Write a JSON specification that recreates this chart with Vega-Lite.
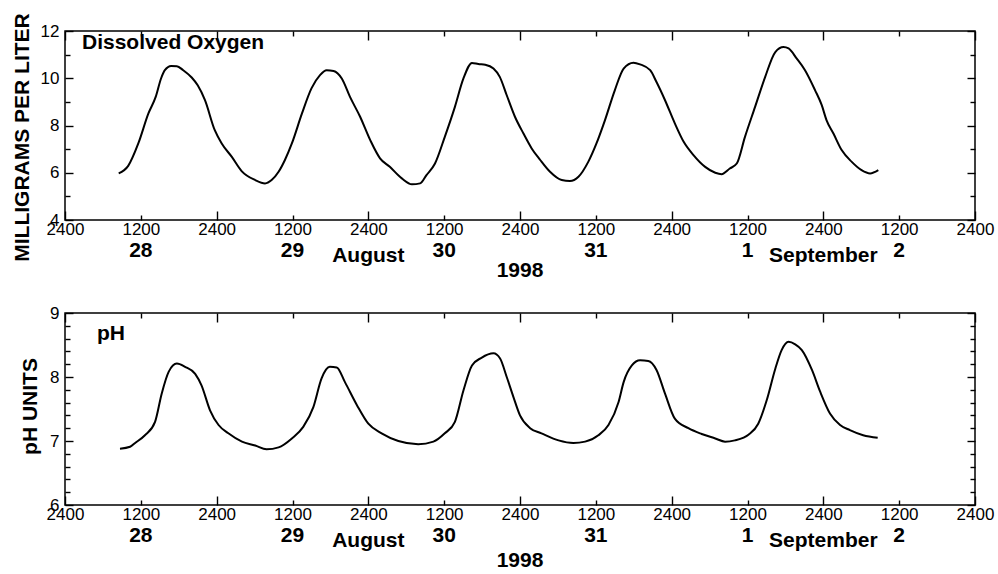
{
  "$schema": "https://vega.github.io/schema/vega-lite/v6.json",
  "padding": {"left": 10, "top": 12, "right": 4, "bottom": 4},
  "background": "white",
  "bounds": "flush",
  "spacing": 93,
  "config": {
    "font": "Liberation Sans",
    "view": {"stroke": "black", "strokeWidth": 1.5},
    "axis": {"domain": false, "grid": false, "ticks": true, "labelFont": "Liberation Sans", "labelFontSize": 17, "labelColor": "black", "tickColor": "black", "tickWidth": 1.4, "labelFlush": false, "labelOverlap": false, "titleFont": "Liberation Sans", "titleFontSize": 21, "titleFontWeight": "bold", "titleColor": "black", "zindex": 1},
    "text": {"font": "Liberation Sans", "fontSize": 21, "fontWeight": "bold", "color": "black"}
  },
  "datasets": {
    "do": [
      {"hour": 8.5, "do": 5.97}, {"hour": 10.0, "do": 6.29}, {"hour": 11.6, "do": 7.24}, {"hour": 13.2, "do": 8.51}, {"hour": 14.35, "do": 9.21}, {"hour": 15.2, "do": 9.99}, {"hour": 15.8, "do": 10.34}, {"hour": 16.8, "do": 10.52}, {"hour": 17.7, "do": 10.51}, {"hour": 18.7, "do": 10.34}, {"hour": 20.05, "do": 10.03}, {"hour": 21.0, "do": 9.7}, {"hour": 22.15, "do": 9.07}, {"hour": 23.7, "do": 7.8}, {"hour": 24.8, "do": 7.24}, {"hour": 26.4, "do": 6.67}, {"hour": 27.95, "do": 6.07}, {"hour": 30.1, "do": 5.69}, {"hour": 31.65, "do": 5.55}, {"hour": 32.7, "do": 5.69}, {"hour": 33.8, "do": 6.04}, {"hour": 34.8, "do": 6.54}, {"hour": 35.9, "do": 7.24}, {"hour": 37.5, "do": 8.51}, {"hour": 39.0, "do": 9.57}, {"hour": 40.35, "do": 10.13}, {"hour": 41.4, "do": 10.34}, {"hour": 42.5, "do": 10.31}, {"hour": 43.8, "do": 9.99}, {"hour": 45.1, "do": 9.21}, {"hour": 46.7, "do": 8.37}, {"hour": 48.3, "do": 7.38}, {"hour": 49.85, "do": 6.61}, {"hour": 51.4, "do": 6.25}, {"hour": 53.3, "do": 5.76}, {"hour": 54.9, "do": 5.51}, {"hour": 56.2, "do": 5.55}, {"hour": 57.2, "do": 5.9}, {"hour": 58.55, "do": 6.39}, {"hour": 60.1, "do": 7.52}, {"hour": 61.7, "do": 8.79}, {"hour": 63.05, "do": 9.99}, {"hour": 64.4, "do": 10.65}, {"hour": 65.4, "do": 10.6}, {"hour": 66.5, "do": 10.57}, {"hour": 67.8, "do": 10.41}, {"hour": 68.8, "do": 10.06}, {"hour": 69.9, "do": 9.28}, {"hour": 71.2, "do": 8.37}, {"hour": 72.55, "do": 7.66}, {"hour": 73.85, "do": 7.03}, {"hour": 75.2, "do": 6.54}, {"hour": 76.75, "do": 6.04}, {"hour": 78.6, "do": 5.69}, {"hour": 79.9, "do": 5.65}, {"hour": 81.25, "do": 5.83}, {"hour": 82.8, "do": 6.46}, {"hour": 84.1, "do": 7.24}, {"hour": 85.45, "do": 8.23}, {"hour": 87.0, "do": 9.49}, {"hour": 88.4, "do": 10.41}, {"hour": 89.95, "do": 10.66}, {"hour": 91.0, "do": 10.59}, {"hour": 92.6, "do": 10.34}, {"hour": 93.6, "do": 9.84}, {"hour": 94.95, "do": 9.07}, {"hour": 96.5, "do": 8.09}, {"hour": 97.9, "do": 7.31}, {"hour": 99.45, "do": 6.75}, {"hour": 101.3, "do": 6.25}, {"hour": 102.9, "do": 6.0}, {"hour": 103.9, "do": 5.94}, {"hour": 105.2, "do": 6.18}, {"hour": 106.3, "do": 6.39}, {"hour": 107.6, "do": 7.52}, {"hour": 109.2, "do": 8.79}, {"hour": 110.8, "do": 10.06}, {"hour": 112.4, "do": 11.11}, {"hour": 113.7, "do": 11.32}, {"hour": 114.5, "do": 11.26}, {"hour": 115.8, "do": 10.83}, {"hour": 117.1, "do": 10.34}, {"hour": 118.7, "do": 9.49}, {"hour": 119.75, "do": 8.86}, {"hour": 120.5, "do": 8.23}, {"hour": 121.6, "do": 7.66}, {"hour": 122.9, "do": 6.96}, {"hour": 124.5, "do": 6.46}, {"hour": 126.05, "do": 6.11}, {"hour": 127.4, "do": 5.97}, {"hour": 128.7, "do": 6.11}
    ],
    "ph": [
      {"hour": 8.7, "ph": 6.88}, {"hour": 10.3, "ph": 6.91}, {"hour": 11.1, "ph": 6.97}, {"hour": 12.65, "ph": 7.09}, {"hour": 14.25, "ph": 7.3}, {"hour": 15.3, "ph": 7.74}, {"hour": 16.4, "ph": 8.08}, {"hour": 17.7, "ph": 8.21}, {"hour": 19.0, "ph": 8.16}, {"hour": 20.6, "ph": 8.05}, {"hour": 21.6, "ph": 7.87}, {"hour": 22.95, "ph": 7.48}, {"hour": 24.3, "ph": 7.25}, {"hour": 25.85, "ph": 7.12}, {"hour": 28.0, "ph": 6.99}, {"hour": 30.1, "ph": 6.93}, {"hour": 31.9, "ph": 6.87}, {"hour": 33.8, "ph": 6.9}, {"hour": 35.9, "ph": 7.04}, {"hour": 37.7, "ph": 7.22}, {"hour": 39.3, "ph": 7.53}, {"hour": 40.6, "ph": 7.98}, {"hour": 41.9, "ph": 8.16}, {"hour": 43.0, "ph": 8.15}, {"hour": 44.3, "ph": 7.92}, {"hour": 46.2, "ph": 7.56}, {"hour": 48.0, "ph": 7.27}, {"hour": 50.1, "ph": 7.12}, {"hour": 52.75, "ph": 7.0}, {"hour": 55.9, "ph": 6.95}, {"hour": 58.3, "ph": 6.99}, {"hour": 60.1, "ph": 7.12}, {"hour": 61.7, "ph": 7.3}, {"hour": 63.05, "ph": 7.79}, {"hour": 64.4, "ph": 8.18}, {"hour": 65.9, "ph": 8.3}, {"hour": 67.8, "ph": 8.37}, {"hour": 68.85, "ph": 8.29}, {"hour": 69.9, "ph": 8.0}, {"hour": 70.95, "ph": 7.69}, {"hour": 72.0, "ph": 7.4}, {"hour": 73.6, "ph": 7.2}, {"hour": 75.4, "ph": 7.12}, {"hour": 78.1, "ph": 7.01}, {"hour": 80.45, "ph": 6.97}, {"hour": 82.3, "ph": 6.99}, {"hour": 84.4, "ph": 7.09}, {"hour": 86.0, "ph": 7.25}, {"hour": 87.6, "ph": 7.61}, {"hour": 88.4, "ph": 7.92}, {"hour": 89.7, "ph": 8.18}, {"hour": 91.0, "ph": 8.26}, {"hour": 92.3, "ph": 8.25}, {"hour": 93.6, "ph": 8.11}, {"hour": 94.95, "ph": 7.74}, {"hour": 96.5, "ph": 7.35}, {"hour": 98.65, "ph": 7.2}, {"hour": 100.75, "ph": 7.11}, {"hour": 102.9, "ph": 7.04}, {"hour": 104.45, "ph": 6.99}, {"hour": 106.0, "ph": 7.01}, {"hour": 108.2, "ph": 7.1}, {"hour": 109.7, "ph": 7.27}, {"hour": 111.05, "ph": 7.64}, {"hour": 112.4, "ph": 8.13}, {"hour": 113.4, "ph": 8.42}, {"hour": 114.5, "ph": 8.55}, {"hour": 115.55, "ph": 8.51}, {"hour": 116.6, "ph": 8.42}, {"hour": 118.2, "ph": 8.11}, {"hour": 119.5, "ph": 7.77}, {"hour": 121.05, "ph": 7.43}, {"hour": 122.65, "ph": 7.25}, {"hour": 124.2, "ph": 7.17}, {"hour": 126.3, "ph": 7.09}, {"hour": 128.6, "ph": 7.05}
    ],
    "days": [
      {"hour": 12, "label": "28"}, {"hour": 36, "label": "29"}, {"hour": 60, "label": "30"}, {"hour": 84, "label": "31"}, {"hour": 108, "label": "1"}, {"hour": 132, "label": "2"}
    ],
    "months": [
      {"hour": 48, "label": "August"}, {"hour": 120, "label": "September"}
    ],
    "year": [
      {"hour": 72, "label": "1998"}
    ]
  },
  "vconcat": [
    {
      "width": 910,
      "height": 189,
      "layer": [
        {
          "data": {"name": "do"},
          "mark": {"type": "line", "color": "black", "strokeWidth": 2, "interpolate": "monotone"},
          "encoding": {
            "x": {"field": "hour", "type": "quantitative", "scale": {"domain": [0, 144], "nice": false, "zero": false},
              "axis": {"orient": "bottom", "title": null, "values": [0, 12, 24, 36, 48, 60, 72, 84, 96, 108, 120, 132, 144],
                "labelExpr": "datum.value % 24 == 0 ? '2400' : '1200'",
                "tickSize": {"condition": {"test": "datum.value % 24 == 0", "value": -9}, "value": -5},
                "labelPadding": {"condition": {"test": "datum.value % 24 == 0", "value": 10}, "value": 6}}},
            "y": {"field": "do", "type": "quantitative", "scale": {"domain": [4, 12], "nice": false, "zero": false},
              "axis": {"orient": "left", "title": "MILLIGRAMS PER LITER", "values": [4, 5, 6, 7, 8, 9, 10, 11, 12],
                "labelExpr": "datum.value % 2 == 0 ? datum.label : ''",
                "tickSize": {"condition": {"test": "datum.value % 2 == 0", "value": -8}, "value": -5},
                "labelPadding": {"condition": {"test": "datum.value % 2 == 0", "value": 14}, "value": 11},
                "titleX": -43, "titleY": 106, "titleBaseline": "middle", "titleAlign": "center", "titleAngle": 270}}
          }
        },
        {
          "data": {"name": "do"},
          "mark": {"type": "line", "opacity": 0},
          "encoding": {
            "x": {"field": "hour", "type": "quantitative",
              "axis": {"orient": "top", "title": null, "labels": false, "values": [0, 12, 24, 36, 48, 60, 72, 84, 96, 108, 120, 132, 144],
                "tickSize": {"condition": {"test": "datum.value % 24 == 0", "value": -9}, "value": -5}}},
            "y": {"field": "do", "type": "quantitative",
              "axis": {"orient": "right", "title": null, "labels": false, "values": [4, 5, 6, 7, 8, 9, 10, 11, 12],
                "tickSize": {"condition": {"test": "datum.value % 2 == 0", "value": -8}, "value": -5}}}
          }
        },
        {
          "data": {"values": [{"label": "Dissolved Oxygen"}]},
          "mark": {"type": "text", "align": "left", "baseline": "alphabetic", "dx": 17, "dy": 17.5},
          "encoding": {"x": {"datum": 0, "axis": null}, "y": {"datum": 12, "axis": null}, "text": {"field": "label"}}
        },
        {
          "data": {"name": "days"},
          "mark": {"type": "text", "align": "center", "baseline": "alphabetic", "dy": 37},
          "encoding": {"x": {"field": "hour", "type": "quantitative", "axis": null}, "y": {"datum": 4, "axis": null}, "text": {"field": "label"}}
        },
        {
          "data": {"name": "months"},
          "mark": {"type": "text", "align": "center", "baseline": "alphabetic", "dy": 42},
          "encoding": {"x": {"field": "hour", "type": "quantitative", "axis": null}, "y": {"datum": 4, "axis": null}, "text": {"field": "label"}}
        },
        {
          "data": {"name": "year"},
          "mark": {"type": "text", "align": "center", "baseline": "alphabetic", "dy": 56.5},
          "encoding": {"x": {"field": "hour", "type": "quantitative", "axis": null}, "y": {"datum": 4, "axis": null}, "text": {"field": "label"}}
        }
      ],
      "resolve": {"axis": {"x": "independent", "y": "independent"}}
    },
    {
      "width": 910,
      "height": 192,
      "layer": [
        {
          "data": {"name": "ph"},
          "mark": {"type": "line", "color": "black", "strokeWidth": 2, "interpolate": "monotone"},
          "encoding": {
            "x": {"field": "hour", "type": "quantitative", "scale": {"domain": [0, 144], "nice": false, "zero": false},
              "axis": {"orient": "bottom", "title": null, "values": [0, 12, 24, 36, 48, 60, 72, 84, 96, 108, 120, 132, 144],
                "labelExpr": "datum.value % 24 == 0 ? '2400' : '1200'",
                "tickSize": {"condition": {"test": "datum.value % 24 == 0", "value": -9}, "value": -5},
                "labelPadding": {"condition": {"test": "datum.value % 24 == 0", "value": 10}, "value": 6}}},
            "y": {"field": "ph", "type": "quantitative", "scale": {"domain": [6, 9], "nice": false, "zero": false},
              "axis": {"orient": "left", "title": "pH UNITS", "values": [6, 6.2, 6.4, 6.6, 6.8, 7, 7.2, 7.4, 7.6, 7.8, 8, 8.2, 8.4, 8.6, 8.8, 9],
                "labelExpr": "abs(datum.value - round(datum.value)) < 0.01 ? format(datum.value, 'd') : ''",
                "tickSize": {"condition": {"test": "abs(datum.value - round(datum.value)) < 0.01", "value": -8}, "value": -5},
                "labelPadding": {"condition": {"test": "abs(datum.value - round(datum.value)) < 0.01", "value": 14}, "value": 11},
                "titleX": -35, "titleY": 93, "titleBaseline": "middle", "titleAlign": "center", "titleAngle": 270}}
          }
        },
        {
          "data": {"name": "ph"},
          "mark": {"type": "line", "opacity": 0},
          "encoding": {
            "x": {"field": "hour", "type": "quantitative",
              "axis": {"orient": "top", "title": null, "labels": false, "values": [0, 12, 24, 36, 48, 60, 72, 84, 96, 108, 120, 132, 144],
                "tickSize": {"condition": {"test": "datum.value % 24 == 0", "value": -9}, "value": -5}}},
            "y": {"field": "ph", "type": "quantitative",
              "axis": {"orient": "right", "title": null, "labels": false, "values": [6, 6.2, 6.4, 6.6, 6.8, 7, 7.2, 7.4, 7.6, 7.8, 8, 8.2, 8.4, 8.6, 8.8, 9],
                "tickSize": {"condition": {"test": "abs(datum.value - round(datum.value)) < 0.01", "value": -8}, "value": -5}}}
          }
        },
        {
          "data": {"values": [{"label": "pH"}]},
          "mark": {"type": "text", "align": "left", "baseline": "alphabetic", "dx": 32, "dy": 26.5},
          "encoding": {"x": {"datum": 0, "axis": null}, "y": {"datum": 9, "axis": null}, "text": {"field": "label"}}
        },
        {
          "data": {"name": "days"},
          "mark": {"type": "text", "align": "center", "baseline": "alphabetic", "dy": 37},
          "encoding": {"x": {"field": "hour", "type": "quantitative", "axis": null}, "y": {"datum": 6, "axis": null}, "text": {"field": "label"}}
        },
        {
          "data": {"name": "months"},
          "mark": {"type": "text", "align": "center", "baseline": "alphabetic", "dy": 42},
          "encoding": {"x": {"field": "hour", "type": "quantitative", "axis": null}, "y": {"datum": 6, "axis": null}, "text": {"field": "label"}}
        },
        {
          "data": {"name": "year"},
          "mark": {"type": "text", "align": "center", "baseline": "alphabetic", "dy": 61.5},
          "encoding": {"x": {"field": "hour", "type": "quantitative", "axis": null}, "y": {"datum": 6, "axis": null}, "text": {"field": "label"}}
        }
      ],
      "resolve": {"axis": {"x": "independent", "y": "independent"}}
    }
  ]
}
